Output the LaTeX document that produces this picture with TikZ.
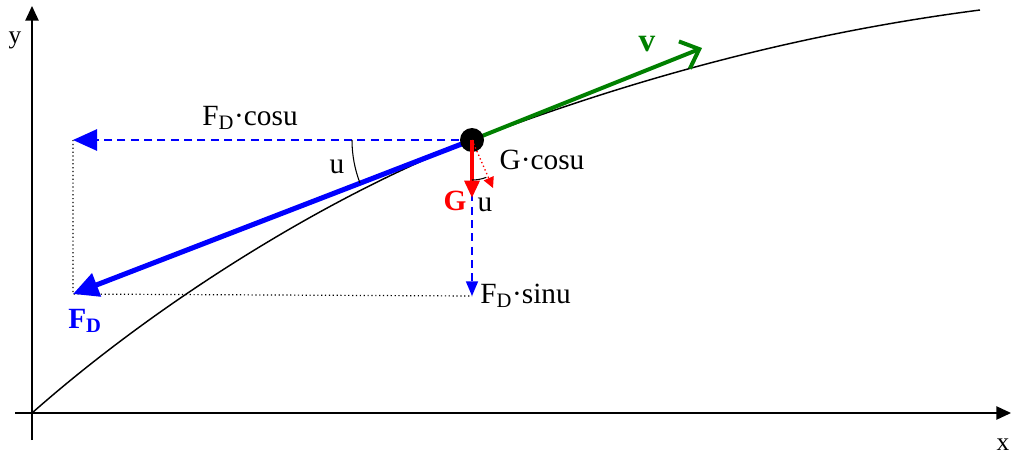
\documentclass[tikz,border=0pt]{standalone}
\usepackage{fontspec}
\setmainfont{Liberation Serif}
\usetikzlibrary{arrows.meta}

\begin{document}
\begin{tikzpicture}[x=0.75pt,y=-0.75pt,
    lbl/.style={font=\fontsize{22}{24}\selectfont, inner sep=0pt},
    comp/.style={draw=blue, line width=1.2pt, dash pattern=on 6pt off 4pt}]

\useasboundingbox (0,0) rectangle (1011,458);

% axes
\coordinate (o) at (32,413);
\coordinate (xend) at (1011,413);
\coordinate (yend) at (32,6);
\draw[line width=1.1pt, -{Triangle[length=11pt,width=10pt]}] (15,413) -- (xend);
\draw[line width=1.1pt, -{Triangle[length=11pt,width=10pt]}] (32,440) -- (yend);
\node[font=\fontsize{19}{21}\selectfont] (ylab) at (15,40) {y};
\node[font=\fontsize{19}{21}\selectfont] (xlab) at (1003,445) {x};

% path of the body
\draw[line width=1.1pt] (o) .. controls (160,300) and (330,195) .. (472,140)
    .. controls (642,75) and (810,32) .. (980,10);

% points of the vectors
\coordinate (fd) at (73,294);
\coordinate (fdx) at (73,140);
\coordinate (fdy) at (472,296);
\coordinate (vtip) at (702,48);
\coordinate (gtip) at (472,198);
\coordinate (gcos) at (493,188);

% helper lines
\draw[dotted, line width=0.9pt] (fdx) -- (fd) -- (fdy);

% components of the drag
\draw[comp, -{Triangle[length=18pt,width=16pt]}] (472,140) -- (fdx);
\draw[comp, -{Triangle[length=11pt,width=9pt]}] (472,140) -- (fdy);

% drag and velocity
\draw[blue, line width=3.8pt, -{Triangle[length=19pt,width=18pt]}] (472,140) -- (fd);
\draw[green!50!black, line width=3pt, line join=miter,
    -{Straight Barb[length=12pt,width=22pt]}] (472,140) -- (vtip);

% the body
\node[circle, fill=black, minimum size=18pt, inner sep=0pt] (m) at (472,140) {};

% weight
\draw[red, line width=3pt, -{Triangle[length=13pt,width=11pt]}] (m.center) -- (gtip);
\draw[red, dotted, line width=1pt, -{Triangle[length=8pt,width=8pt]}] (m.center) -- (gcos);

% angles
\draw[line width=0.8pt] (m.center) ++(180:120) arc (180:159:120);
\draw[line width=0.8pt] (m.center) ++(90:40) arc (90:69:40);

% labels
\node[lbl] (lcos) at (250,118) {F\textsubscript{D}·cosu};
\node[lbl, anchor=west] (lsin) at (480,296) {F\textsubscript{D}·sinu};
\node[lbl] (lgcos) at (542,160) {G·cosu};
\node[lbl] (lu1) at (337,167) {u};
\node[lbl] (lu2) at (485,205) {u};
\node[lbl, font=\fontsize{25}{27}\selectfont\bfseries, text=green!50!black] (lv) at (647,44) {v};
\node[lbl, font=\fontsize{22}{24}\selectfont\bfseries, text=blue] (lfd) at (85,321) {F\textsubscript{D}};
\node[lbl, font=\fontsize{22}{24}\selectfont\bfseries, text=red] (lg) at (455,201) {G};

\end{tikzpicture}
\end{document}
